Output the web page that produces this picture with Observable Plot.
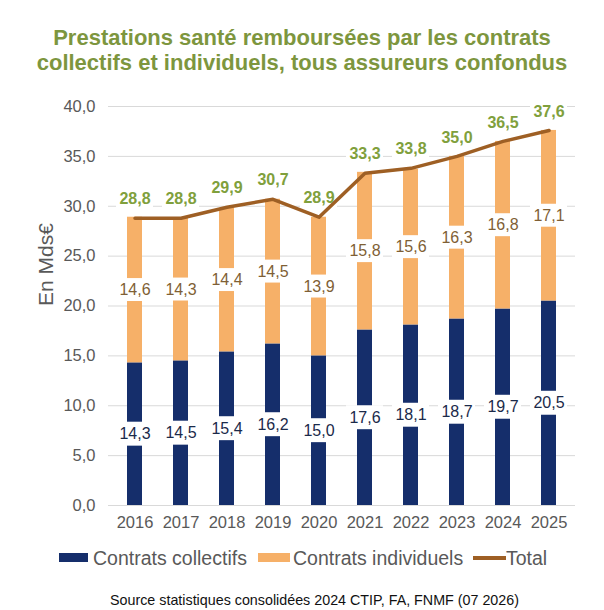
<!DOCTYPE html>
<html>
<head>
<meta charset="utf-8">
<script src="https://cdn.jsdelivr.net/npm/d3@7"></script>
<script src="https://cdn.jsdelivr.net/npm/@observablehq/plot@0.6"></script>
<style>
  html, body { margin: 0; padding: 0; background: #fff; }
  body { width: 604px; height: 610px; font-family: "Liberation Sans", Arial, sans-serif; position: relative; overflow: hidden; }
  #title { box-sizing: border-box; height: 86px; padding-top: 25px; text-align: center; font-weight: bold; font-size: 22px; line-height: 25px; color: #7d963e; }
  #chart { height: 454px; }
  #legend { position: relative; height: 36px; color: #595959; font-size: 19.5px; }
  #legend .sw { position: absolute; }
  #legend .lb { position: absolute; top: 6px; line-height: 24px; white-space: nowrap; }
  #caption { position: relative; height: 34px; }
  #caption span { position: absolute; left: 110px; top: 14px; line-height: 20px; font-size: 14.3px; color: #111; white-space: nowrap; }
</style>
</head>
<body>
<div id="title">Prestations santé remboursées par les contrats<br>collectifs et individuels, tous assureurs confondus</div>
<div id="chart"></div>
<div id="legend"></div>
<div id="caption"><span>Source statistiques consolidées 2024 CTIP, FA, FNMF (07 2026)</span></div>
<script>
const years = ["2016","2017","2018","2019","2020","2021","2022","2023","2024","2025"];
const collectifs = [14.3,14.5,15.4,16.2,15.0,17.6,18.1,18.7,19.7,20.5];
const individuels = [14.6,14.3,14.4,14.5,13.9,15.8,15.6,16.3,16.8,17.1];
const total = [28.8,28.8,29.9,30.7,28.9,33.3,33.8,35.0,36.5,37.6];
const series = ["Contrats collectifs","Contrats individuels","Total"];
const yTicks = [0,5,10,15,20,25,30,35,40];

const navy = "#152e6b", orange = "#f6b068", brown = "#9e5f24";
const olive = "#80a03c", indivText = "#7f5f35", collText = "#1b2a4a", axisGray = "#595959";
const fmt = d => d.toFixed(1).replace(".", ",");

const stacked = [];
years.forEach((y, i) => {
  stacked.push({year: y, serie: series[0], value: collectifs[i]});
  stacked.push({year: y, serie: series[1], value: individuels[i]});
});
const rows = years.map((y, i) => ({
  year: y,
  c: collectifs[i],
  ind: individuels[i],
  t: total[i],
  cMid: collectifs[i] / 2,
  iMid: collectifs[i] + individuels[i] / 2
}));

const chart = Plot.plot({
  width: 604,
  height: 454,
  marginLeft: 108,
  marginRight: 29,
  marginTop: 20,
  marginBottom: 35,
  x: {domain: years, paddingInner: 0.68, paddingOuter: 0.35, label: null},
  y: {domain: [0, 40], label: null},
  color: {domain: series.slice(0, 2), range: [navy, orange]},
  style: {fontFamily: "'Liberation Sans', Arial, sans-serif", fontSize: "16.5px", background: "white", overflow: "visible"},
  marks: [
    Plot.gridY(yTicks, {stroke: "#d9d9d9", strokeOpacity: 1, strokeWidth: 1}),
    Plot.axisY(yTicks, {tickSize: 0, tickPadding: 13, tickFormat: fmt, fill: axisGray, fontSize: 16.5}),
    Plot.axisX({tickSize: 0, tickPadding: 11, fill: axisGray, fontSize: 16.5}),
    Plot.text(["En Mds€"], {frameAnchor: "left", rotate: -90, dx: -62, fontSize: 21, fill: axisGray}),
    Plot.barY(stacked, {x: "year", y: "value", fill: "serie"}),
    // white label boxes
    Plot.barY(rows, {x: "year", y1: d => d.cMid - 1.2, y2: d => d.cMid + 1.2, fill: "white", insetLeft: -11, insetRight: -11}),
    Plot.barY(rows, {x: "year", y1: d => d.iMid - 1.15, y2: d => d.iMid + 1.15, fill: "white", insetLeft: -11, insetRight: -11}),
    Plot.barY(rows, {x: "year", y1: d => d.t + 0.8, y2: d => d.t + 3.0, fill: "white", insetLeft: -11, insetRight: -11}),
    Plot.lineY(rows, {x: "year", y: "t", stroke: brown, strokeWidth: 3.5}),
    Plot.text(rows, {x: "year", y: "cMid", text: d => fmt(d.c), fill: collText, fontSize: 16}),
    Plot.text(rows, {x: "year", y: "iMid", text: d => fmt(d.ind), fill: indivText, fontSize: 16}),
    Plot.text(rows, {x: "year", y: "t", dy: -19, text: d => fmt(d.t), fill: olive, fontSize: 16, fontWeight: "bold"})
  ]
});
document.getElementById("chart").appendChild(chart);

// legend
const legend = d3.select("#legend");
const items = [
  {label: series[0], color: navy, type: "bar", sx: 59, sw: 29, tx: 93},
  {label: series[1], color: orange, type: "bar", sx: 258, sw: 32, tx: 293},
  {label: series[2], color: brown, type: "line", sx: 473, sw: 33, tx: 506}
];
items.forEach(it => {
  legend.append("div").attr("class", "sw")
    .style("left", it.sx + "px")
    .style("width", it.sw + "px")
    .style("top", it.type === "bar" ? "13px" : "16px")
    .style("height", it.type === "bar" ? "9px" : "4px")
    .style("background", it.color);
  legend.append("div").attr("class", "lb").style("left", it.tx + "px").text(it.label);
});
</script>
</body>
</html>
